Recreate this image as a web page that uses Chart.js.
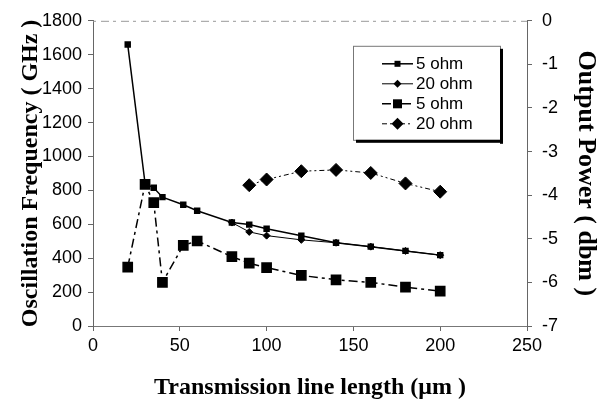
<!DOCTYPE html>
<html><head><meta charset="utf-8">
<script src="https://cdn.jsdelivr.net/npm/chart.js@4/dist/chart.umd.min.js"></script>
<style>html,body{margin:0;padding:0;background:#fff}#wrap{width:599px;height:406px}</style>
</head><body><div id="wrap"><canvas id="c" width="599" height="406"></canvas></div>
<script>
// ---- data ----
const lengths5 = [20, 30, 35, 40, 52, 60, 80, 90, 100, 120, 140, 160, 180, 200];
const freq5ohm = [1660, 840, 815, 760, 715, 680, 610, 598, 573, 532, 491, 468, 443, 418];
const lengths20 = [80, 90, 100, 120, 140, 160, 180, 200];
const freq20ohm = [610, 555, 533, 508, 491, 468, 443, 418];
const power5ohm = [-5.65, -3.75, -4.17, -6.0, -5.15, -5.05, -5.41, -5.56, -5.66, -5.84, -5.94, -6.0, -6.11, -6.2];
const lengthsP20 = [90, 100, 120, 140, 160, 180, 200];
const power20ohm = [-3.77, -3.64, -3.45, -3.42, -3.49, -3.73, -3.92];
const seriesLabels = ['5 ohm', '20 ohm', '5 ohm', '20 ohm'];
const xTitle = 'Transmission line length (\u03bcm )';
const yTitle = 'Oscillation Frequency ( GHz )';
const y2Title = 'Output Power ( dbm )';

const pts = (xs, ys) => xs.map((x, i) => ({x, y: ys[i]}));

const datasets = [
  {label: seriesLabels[0], data: pts(lengths5, freq5ohm), yAxisID: 'y', borderColor: '#000', backgroundColor: '#000',
   borderWidth: 1.5, pointStyle: 'rect', pointRadius: 3.5, legendDash: [], legendMarker: 'rect', legendSize: 3},
  {label: seriesLabels[1], data: pts(lengths20, freq20ohm), yAxisID: 'y', borderColor: '#000', backgroundColor: '#000',
   borderWidth: 1, pointStyle: 'rectRot', pointRadius: 3.5, legendDash: [], legendMarker: 'diamond', legendSize: 3},
  {label: seriesLabels[2], data: pts(lengths5, power5ohm), yAxisID: 'y2', borderColor: '#000', backgroundColor: '#000',
   borderWidth: 1.5, borderDash: [9, 4, 3, 4], pointStyle: 'rect', pointRadius: 6.5, legendDash: [9, 4, 3, 4], legendMarker: 'rect', legendSize: 4.5},
  {label: seriesLabels[3], data: pts(lengthsP20, power20ohm), yAxisID: 'y2', borderColor: '#000', backgroundColor: '#000',
   borderWidth: 1, borderDash: [5, 3, 2, 3, 2, 3], pointStyle: 'rectRot', pointRadius: 6.5, legendDash: [5, 3, 2, 3, 2, 3], legendMarker: 'diamond', legendSize: 5}
];

const framePlugin = {
  id: 'frame',
  beforeDatasetsDraw(chart) {
    const {ctx, chartArea: a} = chart;
    ctx.save();
    ctx.strokeStyle = '#999';
    ctx.lineWidth = 1;
    ctx.setLineDash([3, 5, 8, 4]);
    ctx.beginPath();
    ctx.moveTo(a.left, a.top + 0.5);
    ctx.lineTo(a.right, a.top + 0.5);
    ctx.stroke();
    ctx.restore();
  }
};

const legendPlugin = {
  id: 'boxLegend',
  afterDraw(chart) {
    const {ctx, chartArea: a} = chart;
    const bx = a.left + 260, by = a.top + 25, bw = 147, bh = 94;
    ctx.save();
    ctx.fillStyle = '#fff';
    ctx.fillRect(bx, by, bw, bh);
    ctx.strokeStyle = '#777';
    ctx.lineWidth = 1;
    ctx.strokeRect(bx + 0.5, by + 0.5, bw, bh);
    ctx.fillStyle = '#000';
    ctx.fillRect(bx + bw, by + 3, 3, bh + 1);
    ctx.fillRect(bx + 3, by + bh, bw, 3);
    ctx.font = '17px "Liberation Sans", Arial, sans-serif';
    ctx.textBaseline = 'middle';
    chart.data.datasets.forEach((ds, i) => {
      const y = by + 18 + i * 20;
      const x0 = bx + 29, x1 = bx + 60, xm = (x0 + x1) / 2;
      ctx.strokeStyle = '#000';
      ctx.lineWidth = ds.borderWidth;
      ctx.setLineDash(ds.legendDash);
      ctx.beginPath(); ctx.moveTo(x0, y); ctx.lineTo(x1, y); ctx.stroke();
      ctx.setLineDash([]);
      const s = ds.legendSize;
      ctx.beginPath();
      if (ds.legendMarker === 'rect') { ctx.rect(xm - s, y - s, 2 * s, 2 * s); }
      else { ctx.moveTo(xm, y - s - 1); ctx.lineTo(xm + s + 1, y); ctx.lineTo(xm, y + s + 1); ctx.lineTo(xm - s - 1, y); ctx.closePath(); }
      ctx.fill();
      ctx.fillText(ds.label, x1 + 3, y + 1);
    });
    ctx.restore();
  }
};

const tickFont = {family: '"Liberation Sans", Arial, sans-serif', size: 18};
const titleFont = {family: '"Liberation Serif", "Times New Roman", serif', size: 24, weight: 'bold', lineHeight: 1};
const plain = v => String(v);

new Chart(document.getElementById('c'), {
  type: 'line',
  data: {datasets},
  options: {
    responsive: false,
    animation: false,
    devicePixelRatio: 1,
    layout: {padding: {top: 18, left: 0, right: 0, bottom: 0}},
    plugins: {legend: {display: false}, tooltip: {enabled: false}},
    elements: {line: {tension: 0, fill: false}, point: {borderWidth: 0}},
    scales: {
      x: {
        type: 'linear', min: 0, max: 250,
        ticks: {stepSize: 50, color: '#000', font: tickFont, padding: 4, maxRotation: 0, callback: plain},
        grid: {display: true, drawOnChartArea: false, drawTicks: true, tickLength: 5, color: '#666'},
        border: {display: true, color: '#777', dash: [6, 5]},
        title: {display: true, text: xTitle, color: '#000', font: titleFont, padding: {top: 0, bottom: 6}},
        afterFit: s => { s.height = 80; }
      },
      y: {
        position: 'left', min: 0, max: 1800,
        ticks: {stepSize: 200, color: '#000', font: tickFont, padding: 6, callback: plain},
        grid: {display: true, drawOnChartArea: false, tickLength: 5, color: '#666'},
        border: {display: true, color: '#666'},
        title: {display: true, text: yTitle, color: '#000', font: {...titleFont, size: 24}, padding: {top: 19, bottom: 0}},
        afterFit: s => { s.width = 93; }
      },
      y2: {
        position: 'right', min: -7, max: 0,
        ticks: {stepSize: 1, color: '#000', font: tickFont, padding: 10, callback: plain},
        grid: {display: true, drawOnChartArea: false, tickLength: 5, color: '#666'},
        border: {display: true, color: '#666'},
        title: {display: true, text: y2Title, color: '#000', font: {...titleFont, size: 26}, padding: {top: 0, bottom: 0}},
        afterFit: s => { s.width = 72; }
      }
    }
  },
  plugins: [framePlugin, legendPlugin]
});
</script></body></html>
